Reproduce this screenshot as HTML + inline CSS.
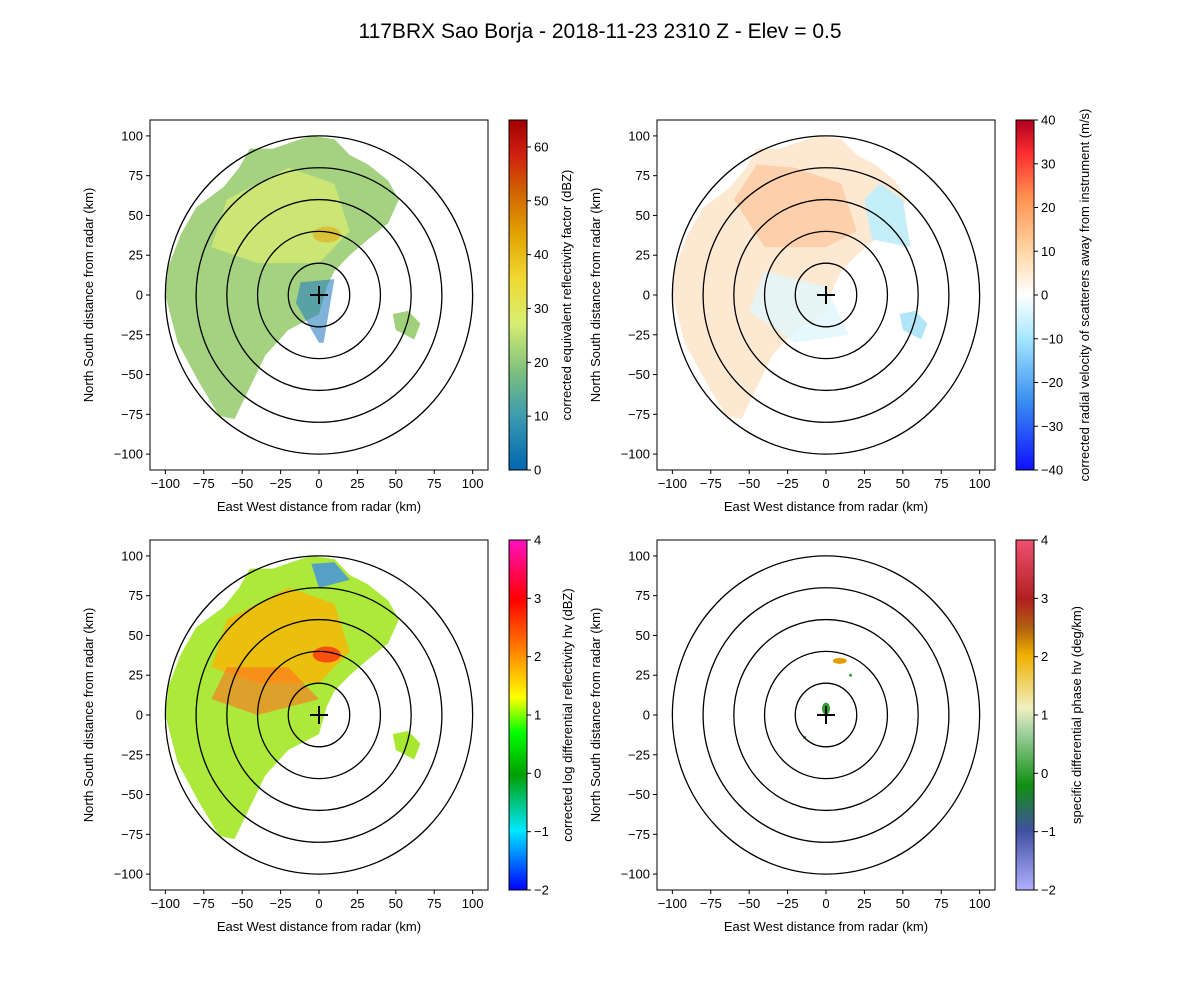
<!DOCTYPE html>
<html><head><meta charset="utf-8">
<style>
body{margin:0;background:#fff;width:1200px;height:1000px;overflow:hidden;font-family:"Liberation Sans",sans-serif;}
svg text{font-family:"Liberation Sans",sans-serif;fill:#000;}
</style></head><body>
<svg id="fig" width="1200" height="1000" xmlns="http://www.w3.org/2000/svg">
<defs>
<linearGradient id="cm0" x1="0" y1="1" x2="0" y2="0">
<stop offset="0" stop-color="#0066b0"/><stop offset="0.15" stop-color="#3a9ab0"/><stop offset="0.28" stop-color="#7cc07e"/><stop offset="0.42" stop-color="#d8ee70"/><stop offset="0.55" stop-color="#f0d830"/><stop offset="0.68" stop-color="#e0a000"/><stop offset="0.8" stop-color="#d06000"/><stop offset="0.9" stop-color="#d02010"/><stop offset="1" stop-color="#a00000"/></linearGradient>
<linearGradient id="cm1" x1="0" y1="1" x2="0" y2="0">
<stop offset="0" stop-color="#1010ff"/><stop offset="0.2" stop-color="#3a90f0"/><stop offset="0.38" stop-color="#a8e8ff"/><stop offset="0.5" stop-color="#ffffff"/><stop offset="0.62" stop-color="#ffd8a8"/><stop offset="0.78" stop-color="#ff9050"/><stop offset="0.9" stop-color="#ff3030"/><stop offset="1" stop-color="#b00020"/></linearGradient>
<linearGradient id="cm2" x1="0" y1="1" x2="0" y2="0">
<stop offset="0" stop-color="#0000ff"/><stop offset="0.17" stop-color="#00e8ff"/><stop offset="0.33" stop-color="#00a000"/><stop offset="0.45" stop-color="#00ff00"/><stop offset="0.55" stop-color="#ffff00"/><stop offset="0.67" stop-color="#ff9000"/><stop offset="0.83" stop-color="#ff0000"/><stop offset="1" stop-color="#ff10c0"/></linearGradient>
<linearGradient id="cm3" x1="0" y1="1" x2="0" y2="0">
<stop offset="0" stop-color="#b0b0ff"/><stop offset="0.17" stop-color="#4050a0"/><stop offset="0.3" stop-color="#109010"/><stop offset="0.45" stop-color="#a0d0a0"/><stop offset="0.52" stop-color="#f0f0c0"/><stop offset="0.67" stop-color="#f0b000"/><stop offset="0.75" stop-color="#b06010"/><stop offset="0.83" stop-color="#b02020"/><stop offset="1" stop-color="#f05070"/></linearGradient>
</defs>
<text x="600" y="38" font-size="21" text-anchor="middle">117BRX Sao Borja - 2018-11-23 2310 Z -  Elev = 0.5</text>
</svg>
<script>
const NS="http://www.w3.org/2000/svg";
const fig=document.getElementById('fig');
const axisTicks=[-100,-75,-50,-25,0,25,50,75,100];
const ringRadii=[20,40,60,80,100];
const echoOutline=[[-5,100],[10,98],[20,88],[32,82],[45,72],[52,60],[45,45],[32,35],[20,25],[10,15],[5,5],[0,-12],[-20,-22],[-35,-38],[-45,-58],[-55,-78],[-65,-76],[-78,-55],[-92,-30],[-100,0],[-98,18],[-90,38],[-80,55],[-62,68],[-52,80],[-45,92],[-30,92],[-15,97]];
const eastPatch=[[48,-12],[58,-10],[66,-18],[62,-28],[50,-22]];
const cbTicks=[[0,10,20,30,40,50,60],[-40,-30,-20,-10,0,10,20,30,40],[-2,-1,0,1,2,3,4],[-2,-1,0,1,2,3,4]];
const cbRange=[[0,65],[-40,40],[-2,4],[-2,4]];
const cbLabels=["corrected equivalent reflectivity factor (dBZ)","corrected radial velocity of scatterers away from instrument (m/s)","corrected log differential reflectivity hv (dBZ)","specific differential phase hv (deg/km)"];
const cbLabelOffset=[39,50,40,42];
const panels=[{x:150,y:120},{x:657,y:120},{x:150,y:540},{x:657,y:540}];
const W=338,H=350;
function el(t,a,p){const e=document.createElementNS(NS,t);for(const k in a)e.setAttribute(k,a[k]);(p||fig).appendChild(e);return e;}
panels.forEach((P,i)=>{
  const sx=v=>P.x+(v+110)/220*W, sy=v=>P.y+H-(v+110)/220*H;
  const g=el('g',{});
  
  
  const pts=a=>a.map(p=>sx(p[0])+','+sy(p[1])).join(' ');
  if(i<3){
    const fills=[["#9fd07a","#d8ec70","#e0b020"],["#fde8d0","#fcc8a0","#a8e4f8"],["#a8e830","#ffb000","#ff2010"]][i];
    const poly=el('polygon',{points:pts(echoOutline),fill:fills[0],opacity:0.95},g);
    
    if(i==1){el('polygon',{points:pts([[-60,60],[-45,82],[-20,80],[10,70],[20,40],[0,30],[-40,30]]),fill:fills[1],opacity:0.8},g);}
    else {el('polygon',{points:pts([[-60,60],[-20,80],[10,70],[20,40],[0,20],[-40,20],[-70,30]]),fill:fills[1],opacity:0.75},g);
    el('ellipse',{cx:sx(5),cy:sy(38),rx:14,ry:8,fill:fills[2],opacity:0.7},g);}
    const ep=el('polygon',{points:pts(eastPatch),fill:i==1?"#b0e6f8":fills[0]},g);
    
    if(i==0){el('polygon',{points:pts([[-15,-5],[0,-30],[3,-30],[10,10],[-12,8]]),fill:"#2a80c0",opacity:0.6},g);}
    if(i==1){el('polygon',{points:pts([[-40,15],[0,5],[15,-25],[-20,-30],[-50,-10]]),fill:"#e0f6fd",opacity:0.8},g);
             el('polygon',{points:pts([[35,70],[50,60],[55,30],[30,35],[25,60]]),fill:"#c4eefa"},g);}
    if(i==2){el('polygon',{points:pts([[-60,30],[-20,30],[0,10],[-40,0],[-70,10]]),fill:"#ff7020",opacity:0.6},g);
             el('polygon',{points:pts([[-5,95],[10,96],[20,85],[0,80]]),fill:"#3080ff",opacity:0.7},g);}
  } else {
    el('ellipse',{cx:sx(9),cy:sy(34),rx:7,ry:3,fill:"#e0a000"},g);
    el('ellipse',{cx:sx(0),cy:sy(4),rx:4,ry:6,fill:"#30a030"},g);
    el('circle',{cx:sx(-14),cy:sy(-14),r:1.5,fill:"#30a030"},g);
    el('circle',{cx:sx(16),cy:sy(25),r:1.5,fill:"#30a030"},g);
  }
  ringRadii.forEach(r=>{const c=el('ellipse',{cx:sx(0),cy:sy(0),rx:sx(r)-sx(0),ry:sy(0)-sy(r),fill:'none',stroke:'#000','stroke-width':1.3},g);
    });
  el('line',{x1:sx(0)-9,y1:sy(0),x2:sx(0)+9,y2:sy(0),stroke:'#000','stroke-width':2},g);
  el('line',{x1:sx(0),y1:sy(0)-9,x2:sx(0),y2:sy(0)+9,stroke:'#000','stroke-width':2},g);
  const fr=el('rect',{x:P.x,y:P.y,width:W,height:H,fill:'none',stroke:'#000','stroke-width':1},g);
  
  axisTicks.forEach(t=>{
    el('line',{x1:sx(t),y1:P.y+H,x2:sx(t),y2:P.y+H+4,stroke:'#000'},g);
    const tx=el('text',{x:sx(t),y:P.y+H+18,'font-size':13,'text-anchor':'middle'},g);tx.textContent=t<0?'\u2212'+(-t):t;
    
    el('line',{x1:P.x-4,y1:sy(t),x2:P.x,y2:sy(t),stroke:'#000'},g);
    const ty=el('text',{x:P.x-7,y:sy(t)+4.5,'font-size':13,'text-anchor':'end'},g);ty.textContent=t<0?'\u2212'+(-t):t;
    
  });
  const xl=el('text',{x:P.x+W/2,y:P.y+H+41,'font-size':13,'text-anchor':'middle'},g);xl.textContent='East West distance from radar (km)';
  
  const yl=el('text',{x:0,y:0,'font-size':13,'text-anchor':'middle',transform:`translate(${P.x-57},${P.y+H/2}) rotate(-90)`},g);yl.textContent='North South distance from radar (km)';
  
  const cx=P.x+359,cw=18;
  const cb=el('rect',{x:cx,y:P.y,width:cw,height:H,fill:`url(#cm${i})`,stroke:'#000','stroke-width':1},g);
  
  const [lo,hi]=cbRange[i];const cy=v=>P.y+H-(v-lo)/(hi-lo)*H;
  cbTicks[i].forEach(t=>{el('line',{x1:cx+cw,y1:cy(t),x2:cx+cw+4,y2:cy(t),stroke:'#000'},g);
    const l=el('text',{x:cx+cw+7,y:cy(t)+4.5,'font-size':13},g);l.textContent=t<0?'\u2212'+(-t):t;
    });
  const cl=el('text',{x:0,y:0,'font-size':13,'text-anchor':'middle',transform:`translate(${cx+cw+cbLabelOffset[i]+5},${P.y+H/2}) rotate(-90)`},g);cl.textContent=cbLabels[i];
  
});
</script>
</body></html>
